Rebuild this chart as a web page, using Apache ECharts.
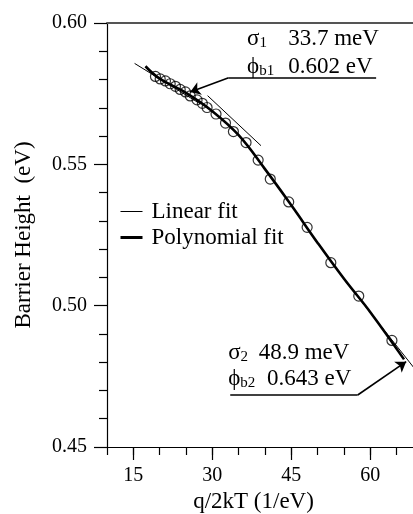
<!DOCTYPE html>
<html><head><meta charset="utf-8">
<script src="https://cdn.jsdelivr.net/npm/echarts@6/dist/echarts.min.js"></script>
<style>html,body{margin:0;padding:0;background:#fff}#c{width:413px;height:514px}</style>
</head><body><div id="c"></div>
<script>
// ---- data ----
const pointX = [19.2, 20.1, 21.1, 22.0, 23.0, 23.9, 24.9, 25.8, 27.1, 28.1, 29.0, 30.7, 32.5, 34.0, 36.4, 38.7, 41.0, 44.5, 48.0, 52.5, 57.8, 64.1];
const pointY = [0.5811, 0.5802, 0.5795, 0.5785, 0.5776, 0.5765, 0.5756, 0.5742, 0.5728, 0.5716, 0.5701, 0.5678, 0.5646, 0.5616, 0.5577, 0.5515, 0.5448, 0.5367, 0.5277, 0.5152, 0.5034, 0.4877];

const linearAX = [15.24, 27.7];
const linearAY = [0.5857, 0.5714];
const linearBX = [29.1, 39.24];
const linearBY = [0.5743, 0.5566];
const linearCX = [55.0, 68.5];
const linearCY = [0.5093, 0.4775];

const polyX = [17.3, 20, 25, 30, 35, 40, 45, 50, 55, 60, 66.4];
const polyY = [0.5847, 0.5803, 0.5753, 0.5688, 0.5603, 0.5483, 0.5355, 0.5222, 0.5095, 0.4977, 0.4810];

const xTickLabels = [15, 30, 45, 60];
const yTickLabels = [0.45, 0.50, 0.55, 0.60];

const sigma1 = '33.7 meV', phi1 = '0.602 eV';
const sigma2 = '48.9 meV', phi2 = '0.643 eV';

// ---- helpers ----
const zip = (xs, ys) => xs.map((x, i) => [x, ys[i]]);
const FONT = 'Liberation Serif';

// annotation placement (data coordinates)
const ann1 = { labelX: 36.6, valX: 44.4, row1Y: 0.5944, row2Y: 0.5843,
  lineY: 0.5806, lineX0: 33.1, lineX1: 61.1, tipX: 25.8, tipY: 0.5756 };
const ann2 = { labelX: 33.0, val1X: 38.8, val2X: 40.4, row1Y: 0.4831, row2Y: 0.4741,
  lineY: 0.4684, lineX0: 33.4, lineX1: 57.6, tipX: 66.8, tipY: 0.4802 };

const chart = echarts.init(document.getElementById('c'), null, { renderer: 'canvas' });

const blackLine = { color: '#000', width: 1.2 };
const option = {
  animation: false,
  backgroundColor: '#fff',
  grid: { left: 107, top: 23, width: 316, bottom: 67, containLabel: false, outerBoundsMode: 'none' },
  legend: {
    data: [
      { name: 'Linear fit', lineStyle: { width: 1, color: '#000' } },
      { name: 'Polynomial fit', lineStyle: { width: 3, color: '#000' } }
    ],
    orient: 'vertical', left: 114, top: 195,
    itemWidth: 22, itemHeight: 14, itemGap: 3,
    itemStyle: { opacity: 0 },
    textStyle: { fontFamily: FONT, fontSize: 23, color: '#000', padding: [0, 0, 0, 4] },
    selectedMode: false
  },
  xAxis: [
    { type: 'value', min: 10, max: 70, interval: 5, position: 'bottom',
      axisLine: { lineStyle: blackLine }, axisTick: { length: 8, lineStyle: blackLine },
      axisLabel: { formatter: v => xTickLabels.includes(v) ? String(v) : '', margin: 19,
        fontFamily: FONT, fontSize: 20, color: '#000' },
      splitLine: { show: false },
      name: 'q/2kT (1/eV)', nameLocation: 'middle', nameGap: 40,
      nameTextStyle: { fontFamily: FONT, fontSize: 23, color: '#000', padding: [0, 23, 0, 0] } },
    { type: 'value', min: 10, max: 70, position: 'bottom',
      axisLine: { show: false }, axisTick: { show: true, length: 13, customValues: xTickLabels, lineStyle: blackLine },
      axisLabel: { show: false }, splitLine: { show: false } },
    { type: 'value', min: 10, max: 70, position: 'top',
      axisLine: { lineStyle: { color: '#555', width: 2 } }, axisTick: { show: false },
      axisLabel: { show: false }, splitLine: { show: false } }
  ],
  yAxis: [
    { type: 'value', min: 0.45, max: 0.60, interval: 0.05,
      axisLine: { show: true, lineStyle: blackLine }, axisTick: { show: true, length: 13, lineStyle: blackLine },
      minorTick: { show: true, splitNumber: 5, length: 8, lineStyle: blackLine },
      axisLabel: { formatter: v => v.toFixed(2), margin: 20, fontFamily: FONT, fontSize: 20, color: '#000' },
      splitLine: { show: false }, minorSplitLine: { show: false },
      name: 'Barrier Height  (eV)', nameLocation: 'middle', nameGap: 72,
      nameTextStyle: { fontFamily: FONT, fontSize: 23, color: '#000' } }
  ],
  series: [
    { name: 'data', type: 'scatter', data: zip(pointX, pointY), symbol: 'circle', symbolSize: 10,
      itemStyle: { color: 'rgba(0,0,0,0)', borderColor: '#000', borderWidth: 1.2 }, z: 2 },
    { name: 'Linear fit', type: 'line', data: zip(linearAX, linearAY), showSymbol: false, symbol: 'none',
      lineStyle: { color: '#000', width: 1 }, itemStyle: { color: '#000' }, z: 3 },
    { name: 'Linear fit', type: 'line', data: zip(linearBX, linearBY), showSymbol: false, symbol: 'none',
      lineStyle: { color: '#000', width: 1 }, itemStyle: { color: '#000' }, z: 3 },
    { name: 'Linear fit', type: 'line', data: zip(linearCX, linearCY), showSymbol: false, symbol: 'none',
      lineStyle: { color: '#000', width: 1 }, itemStyle: { color: '#000' }, z: 3 },
    { name: 'Polynomial fit', type: 'line', data: zip(polyX, polyY), showSymbol: false, symbol: 'none', smooth: 0.4,
      lineStyle: { color: '#000', width: 2.6 }, itemStyle: { color: '#000' }, z: 4 },
    { name: 'annotations', type: 'line', data: [], silent: true,
      markLine: {
        silent: true, animation: false, symbolSize: 10,
        lineStyle: { color: '#000', width: 1.6, type: 'solid' }, label: { show: false },
        data: [
          [{ coord: [ann1.lineX0, ann1.lineY], symbol: 'none' }, { coord: [ann1.lineX1, ann1.lineY], symbol: 'none' }],
          [{ coord: [ann1.lineX0, ann1.lineY], symbol: 'none' }, { coord: [ann1.tipX, ann1.tipY], symbol: 'arrow' }],
          [{ coord: [ann2.lineX0, ann2.lineY], symbol: 'none' }, { coord: [ann2.lineX1, ann2.lineY], symbol: 'none' }],
          [{ coord: [ann2.lineX1, ann2.lineY], symbol: 'none' }, { coord: [ann2.tipX, ann2.tipY], symbol: 'arrow' }]
        ]
      },
      markPoint: {
        silent: true, animation: false, symbol: 'circle', symbolSize: 0,
        label: { show: true, position: 'right', distance: 0, color: '#000', fontFamily: FONT, fontSize: 23,
          rich: {
            g: { fontFamily: FONT, fontSize: 23, color: '#000' },
            s: { fontFamily: FONT, fontSize: 15, color: '#000', verticalAlign: 'bottom', padding: [8, 0, 0, 0] }
          } },
        data: [
          { coord: [ann1.labelX, ann1.row1Y], label: { formatter: '{g|σ}{s|1}' } },
          { coord: [ann1.valX, ann1.row1Y], label: { formatter: sigma1 } },
          { coord: [ann1.labelX, ann1.row2Y], label: { formatter: '{g|ϕ}{s|b1}' } },
          { coord: [ann1.valX, ann1.row2Y], label: { formatter: phi1 } },
          { coord: [ann2.labelX, ann2.row1Y], label: { formatter: '{g|σ}{s|2}' } },
          { coord: [ann2.val1X, ann2.row1Y], label: { formatter: sigma2 } },
          { coord: [ann2.labelX, ann2.row2Y], label: { formatter: '{g|ϕ}{s|b2}' } },
          { coord: [ann2.val2X, ann2.row2Y], label: { formatter: phi2 } }
        ]
      } }
  ]
};
chart.setOption(option);
</script></body></html>
